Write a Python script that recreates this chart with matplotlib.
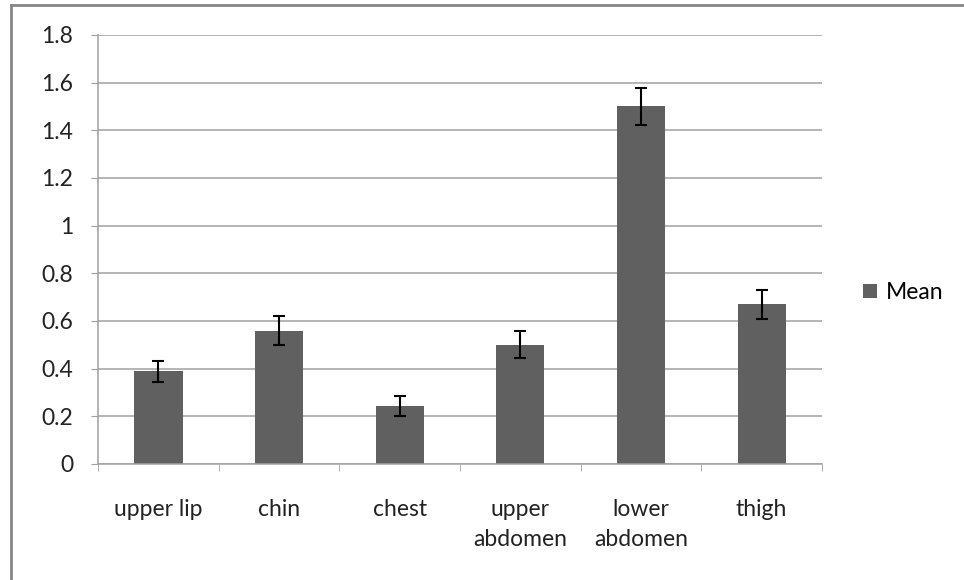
from matplotlib import pyplot as plt
from matplotlib.lines import Line2D
import numpy as np

plt.rcParams["font.family"] = ["Lato", "DejaVu Sans"]

sites = ["upper lip", "chin", "chest", "upper\nabdomen", "lower\nabdomen", "thigh"]
mean = [0.39, 0.56, 0.245, 0.50, 1.50, 0.67]
err = [0.044, 0.06, 0.042, 0.057, 0.078, 0.062]
yticks = [0, 0.2, 0.4, 0.6, 0.8, 1, 1.2, 1.4, 1.6, 1.8]
ylabels = ["0", "0.2", "0.4", "0.6", "0.8", "1", "1.2", "1.4", "1.6", "1.8"]

fig = plt.figure(figsize=(9.64, 5.8), dpi=100)
ax = fig.add_axes([0.1017, 0.2, 0.751, 0.7397])

x = np.arange(len(sites))
ax.bar(x, mean, width=0.4, color="#606060", label="Mean", zorder=2)
ax.errorbar(x, mean, yerr=err, fmt="none", ecolor="black", elinewidth=1.5,
            capsize=4.3, capthick=1.5, zorder=3)

ax.set_xlim(-0.5, len(sites) - 0.5)
ax.set_ylim(0, 1.8)
ax.set_yticks(yticks)
ax.set_yticklabels(ylabels, fontsize=16.5, color="#222222")
ax.set_xticks(x)
ax.set_xticklabels(sites, fontsize=16.5, color="#222222", linespacing=1.55)
ax.set_xticks(np.arange(len(sites) + 1) - 0.5, minor=True)
ax.tick_params(axis="x", which="major", length=0, pad=25)
ax.tick_params(axis="x", which="minor", length=5, color="#a0a0a0", direction="out")
ax.tick_params(axis="y", length=5, color="#a0a0a0", direction="out", pad=13)

ax.grid(True, axis="y", color="#a0a0a0", linewidth=1.1, zorder=0)
for s in ["top", "right"]:
    ax.spines[s].set_visible(False)
ax.spines["left"].set_color("#a0a0a0")
ax.spines["bottom"].set_color("#a0a0a0")
ax.spines["left"].set_linewidth(1.1)
ax.spines["bottom"].set_linewidth(1.1)

ax.legend(loc="center left", bbox_to_anchor=(1.028, 0.40), frameon=False,
          fontsize=16.5, handlelength=0.6, handleheight=0.6, handletextpad=0.4)

# chart border (only top and left visible)
fig.add_artist(Line2D([11 / 964, 1], [1 - 5 / 580, 1 - 5 / 580], color="#868686", linewidth=2))
fig.add_artist(Line2D([11 / 964, 11 / 964], [0, 1 - 5 / 580], color="#868686", linewidth=2))

plt.savefig("out.png", dpi=100)
